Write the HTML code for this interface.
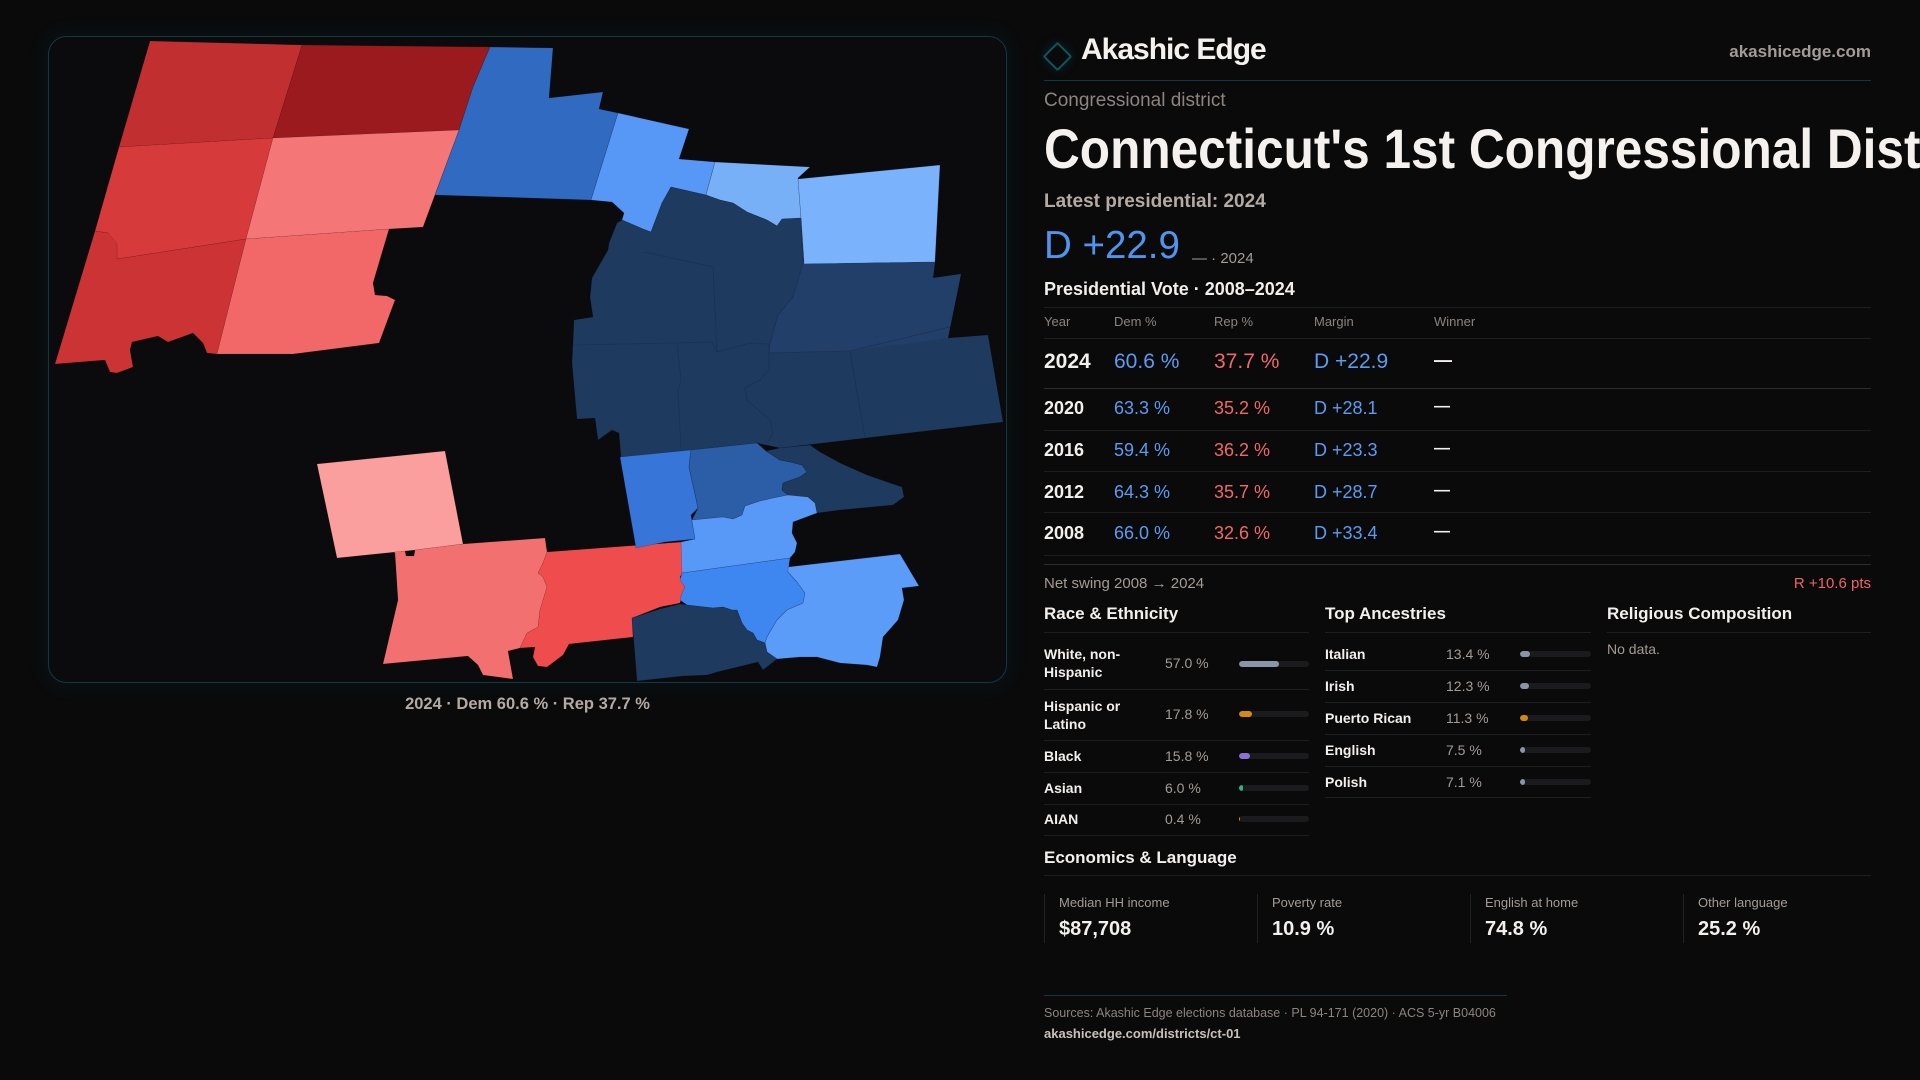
<!DOCTYPE html>
<html><head><meta charset="utf-8">
<style>
html,body{margin:0;padding:0;background:#0a0a0b;}
body{width:1920px;height:1080px;overflow:hidden;position:relative;font-family:"Liberation Sans",Arial,sans-serif;color:#f2efec;}
.a{position:absolute;white-space:nowrap;line-height:1;}
.hl{position:absolute;height:1px;background:#1e1e21;}
.g{color:#a39b96;}
.dg{color:#8c847f;}
.b{color:#5a9cf2;}
.r{color:#f06868;}
.bold{font-weight:700;}
.bar{position:absolute;height:6px;border-radius:3px;background:#1b1b1e;overflow:hidden;}
.bar i{position:absolute;left:0;top:0;bottom:0;border-radius:3px;}
.vb{position:absolute;width:1px;background:#222225;top:894px;height:49px;}
</style></head><body>

<svg width="1920" height="1080" style="position:absolute;left:0;top:0" xmlns="http://www.w3.org/2000/svg">
  <defs>
    <filter id="glow" x="-10%" y="-10%" width="120%" height="120%">
      <feGaussianBlur stdDeviation="8"/>
    </filter>
  </defs>
  <rect x="48.5" y="36.5" width="958" height="646" rx="18" ry="18" fill="none" stroke="#0f4650" stroke-width="6" opacity="0.25" filter="url(#glow)"/>
  <rect x="48.5" y="36.5" width="958" height="646" rx="18" ry="18" fill="#0b0a0c" stroke="#0f3a42" stroke-width="1"/>
  <g stroke="rgba(0,0,0,0.18)" stroke-width="0.5" stroke-linejoin="round">
    <polygon fill="#c22f31" points="150,41 302,45 273,138 119,147"/>
    <polygon fill="#9a1a1e" points="302,45 490,47 473,87 459,130 273,138"/>
    <polygon fill="#d63a3a" points="119,147 273,138 246,239 117,259 117,245 108,233 95,231"/>
    <polygon fill="#f47676" points="273,138 459,130 423,227 389,229 246,239"/>
    <polygon fill="#cc3334" points="95,231 108,233 117,243 117,259 246,239 217,354 207,353 203,343 193,333 168,342 158,336 132,342 130,350 133,367 117,373 110,372 105,360 55,364"/>
    <polygon fill="#f26868" points="246,239 389,229 373,283 375,295 387,296 395,300 379,343 293,354 217,354"/>
    <polygon fill="#fb9e9e" points="317,464 445,451 463,544 415,550 337,558"/>
    <polygon fill="#f37070" points="394,552 405,551 406,556 414,556 415,550 463,544 545,538 547,552 543,563 538,573 543,577 547,587 543,600 540,610 538,627 527,633 520,648 508,651 513,679 483,675 478,665 468,656 383,664 398,600 395,553"/>
    <polygon fill="#ef4d4d" points="547,552 682,542 683,572 680,577 685,587 680,603 660,607 632,618 633,637 569,644 563,655 547,667 538,666 533,657 535,647 520,648 527,633 538,627 540,610 543,600 547,587 543,577 538,573 543,563"/>
  </g>
  <g stroke="rgba(10,20,40,0.3)" stroke-width="0.6" stroke-linejoin="round">
    <polygon fill="#316bc1" points="490,47 553,48 549,98 603,92 599,109 618,113 591,200 500,197 435,195 459,130 473,87"/>
    <polygon fill="#5798f6" points="618,113 689,129 679,159 715,162 706,195 671,187 662,203 651,232 643,229 622,220 624,213 612,202 591,200"/>
    <polygon fill="#78b0f8" points="715,162 810,167 798,178 801,218 782,219 777,226 767,220 747,212 733,203 720,200 706,195"/>
    <polygon fill="#7ab2fb" points="798,179 940,165 935,262 804,264 801,218"/>
    <polygon fill="#1f3a5f" points="671,187 706,195 720,200 733,203 747,212 767,220 777,226 782,219 801,218 804,264 935,262 933,278 961,274 948,338 988,335 1003,422 780,448 757,443 692,450 621,457 619,433 612,430 598,440 595,418 577,419 572,363 573,343 574,320 593,317 590,297 592,278 608,250 609,243 617,223 622,220 643,229 651,232 662,203"/>
    <polygon fill="#223f69" stroke="none" points="804,264 935,262 933,278 961,274 948,338 850,351 769,353 770,343 778,315 793,297 803,263"/>
    <polygon fill="#3775d9" points="620,457 691,450 689,467 698,508 691,515 695,539 665,542 636,548"/>
    <polygon fill="#2c5ea8" points="691,450 757,443 766,451 780,460 790,462 802,465 807,472 800,477 783,483 782,490 788,495 773,498 760,501 745,506 742,515 733,519 723,517 692,520 698,508 689,467"/>
    <polygon fill="#1f3a5f" points="766,451 780,448 810,445 820,452 840,463 867,475 890,483 902,487 904,497 893,505 840,510 817,513 815,503 808,497 788,495 782,490 783,483 800,477 807,472 802,465 790,462 780,460"/>
    <polygon fill="#5898f6" points="692,520 723,517 733,519 742,515 745,506 760,501 773,498 788,495 808,497 815,503 817,513 793,522 792,533 797,543 795,552 790,558 682,573 681,542 695,539 691,515"/>
    <polygon fill="#3e86f0" points="682,573 790,558 788,572 797,582 805,593 803,603 787,610 777,620 767,637 765,643 757,640 753,633 747,630 742,623 737,610 732,610 723,607 713,608 687,605 680,600 682,593 685,587 680,580"/>
    <polygon fill="#5b9cf8" points="788,567 900,554 919,586 902,588 904,600 898,620 883,637 880,657 877,667 867,665 840,663 817,657 800,657 777,659 767,652 765,643 767,637 777,620 787,610 803,603 805,593 797,582 788,572"/>
    <polygon fill="#1f3a5f" points="632,618 660,609 680,604 687,605 713,608 723,607 732,610 737,610 742,623 747,630 753,633 757,640 765,643 767,652 777,659 763,670 758,662 717,672 707,675 683,676 655,679 637,681"/>
  </g>
  <g fill="none" stroke="#1a3253" stroke-width="0.8">
    <polyline points="644,252 713,267 717,352"/>
    <polyline points="573,345 677,343 712,342 717,352 750,343 769,344"/>
    <polyline points="677,345 681,380 678,390 681,449"/>
    <polyline points="769,344 769,370 760,380 745,388 747,400 770,420 773,433 767,443"/>
    <polyline points="801,230 803,263 793,297 778,315 770,343 769,353 850,351 950,327"/>
    <polyline points="850,352 865,437"/>
  </g>
</svg>

<div class="a bold" style="left:0;width:1055px;text-align:center;top:696px;font-size:16.5px;color:#b3aaa4;">2024 · Dem 60.6 % · Rep 37.7 %</div>

<!-- Header -->
<div style="position:absolute;left:1047px;top:46px;width:17px;height:17px;border:2px solid #0f5560;transform:rotate(45deg);border-radius:2px;box-shadow:0 0 10px rgba(15,85,96,0.35);"></div>
<div class="a bold" style="left:1081px;top:35px;font-size:30px;letter-spacing:-1px;color:#f4f1ee;">Akashic Edge</div>
<div class="a bold" style="right:49px;top:43px;font-size:17px;color:#a39b96;">akashicedge.com</div>
<div class="hl" style="left:1044px;width:827px;top:80px;background:#0f3a42;"></div>

<div class="a" style="left:1044px;top:91px;font-size:19px;color:#8c847f;">Congressional district</div>
<div class="a bold" style="left:1044px;top:121px;font-size:56px;color:#f4f1ee;transform:scaleX(0.885);transform-origin:0 0;">Connecticut's 1st Congressional District</div>
<div class="a bold" style="left:1044px;top:192px;font-size:19px;color:#b3aaa4;">Latest presidential: 2024</div>
<div class="a" style="left:1044px;top:227px;font-size:38.5px;color:#4f95ef;">D +22.9</div>
<div class="a" style="left:1192px;top:251px;font-size:15px;color:#a39b96;">— · 2024</div>
<div class="a bold" style="left:1044px;top:280px;font-size:18px;color:#f1eeeb;">Presidential Vote · 2008–2024</div>
<div class="hl" style="left:1044px;width:827px;top:307px;"></div>

<!-- table header -->
<div class="a dg" style="left:1044px;top:315px;font-size:13px;">Year</div>
<div class="a dg" style="left:1114px;top:315px;font-size:13px;">Dem %</div>
<div class="a dg" style="left:1214px;top:315px;font-size:13px;">Rep %</div>
<div class="a dg" style="left:1314px;top:315px;font-size:13px;">Margin</div>
<div class="a dg" style="left:1434px;top:315px;font-size:13px;">Winner</div>
<div class="hl" style="left:1044px;width:827px;top:338px;"></div>

<!-- 2024 -->
<div class="a bold" style="left:1044px;top:351px;font-size:21px;">2024</div>
<div class="a b" style="left:1114px;top:351px;font-size:21px;">60.6 %</div>
<div class="a r" style="left:1214px;top:351px;font-size:21px;">37.7 %</div>
<div class="a b" style="left:1314px;top:351px;font-size:21px;">D +22.9</div>
<div class="a bold" style="left:1434px;top:351px;font-size:18px;">—</div>
<div class="hl" style="left:1044px;width:827px;top:388px;background:#2c2b2e;"></div>

<!-- 2020 -->
<div class="a bold" style="left:1044px;top:399px;font-size:18px;">2020</div>
<div class="a b" style="left:1114px;top:399px;font-size:18px;">63.3 %</div>
<div class="a r" style="left:1214px;top:399px;font-size:18px;">35.2 %</div>
<div class="a b" style="left:1314px;top:399px;font-size:18px;">D +28.1</div>
<div class="a bold" style="left:1434px;top:399px;font-size:16px;">—</div>
<div class="hl" style="left:1044px;width:827px;top:430px;"></div>

<div class="a bold" style="left:1044px;top:441px;font-size:18px;">2016</div>
<div class="a b" style="left:1114px;top:441px;font-size:18px;">59.4 %</div>
<div class="a r" style="left:1214px;top:441px;font-size:18px;">36.2 %</div>
<div class="a b" style="left:1314px;top:441px;font-size:18px;">D +23.3</div>
<div class="a bold" style="left:1434px;top:441px;font-size:16px;">—</div>
<div class="hl" style="left:1044px;width:827px;top:471px;"></div>

<div class="a bold" style="left:1044px;top:483px;font-size:18px;">2012</div>
<div class="a b" style="left:1114px;top:483px;font-size:18px;">64.3 %</div>
<div class="a r" style="left:1214px;top:483px;font-size:18px;">35.7 %</div>
<div class="a b" style="left:1314px;top:483px;font-size:18px;">D +28.7</div>
<div class="a bold" style="left:1434px;top:483px;font-size:16px;">—</div>
<div class="hl" style="left:1044px;width:827px;top:512px;"></div>

<div class="a bold" style="left:1044px;top:524px;font-size:18px;">2008</div>
<div class="a b" style="left:1114px;top:524px;font-size:18px;">66.0 %</div>
<div class="a r" style="left:1214px;top:524px;font-size:18px;">32.6 %</div>
<div class="a b" style="left:1314px;top:524px;font-size:18px;">D +33.4</div>
<div class="a bold" style="left:1434px;top:524px;font-size:16px;">—</div>
<div class="hl" style="left:1044px;width:827px;top:555px;"></div>
<div class="hl" style="left:1044px;width:827px;top:564px;background:#2c2b2e;"></div>

<div class="a g" style="left:1044px;top:576px;font-size:15px;">Net swing 2008 → 2024</div>
<div class="a" style="right:49px;top:576px;font-size:15px;color:#ef6464;">R +10.6 pts</div>

<!-- Section headers -->
<div class="a bold" style="left:1044px;top:605px;font-size:17px;">Race &amp; Ethnicity</div>
<div class="a bold" style="left:1325px;top:605px;font-size:17px;">Top Ancestries</div>
<div class="a bold" style="left:1607px;top:605px;font-size:17px;">Religious Composition</div>
<div class="hl" style="left:1044px;width:265px;top:632px;"></div>
<div class="hl" style="left:1325px;width:266px;top:632px;"></div>
<div class="hl" style="left:1607px;width:264px;top:632px;"></div>

<!-- Race rows -->
<div class="a bold" style="left:1044px;top:645px;font-size:14px;line-height:18px;white-space:normal;width:100px;">White, non-<br>Hispanic</div>
<div class="a g" style="left:1165px;top:656px;font-size:14px;">57.0 %</div>
<div class="bar" style="left:1239px;top:661px;width:70px;"><i style="width:40px;background:#8b95a8;"></i></div>
<div class="hl" style="left:1044px;width:265px;top:689px;"></div>

<div class="a bold" style="left:1044px;top:697px;font-size:14px;line-height:18px;white-space:normal;width:100px;">Hispanic or<br>Latino</div>
<div class="a g" style="left:1165px;top:707px;font-size:14px;">17.8 %</div>
<div class="bar" style="left:1239px;top:711px;width:70px;"><i style="width:12.5px;background:#d4880f;"></i></div>
<div class="hl" style="left:1044px;width:265px;top:740px;"></div>

<div class="a bold" style="left:1044px;top:749px;font-size:14px;">Black</div>
<div class="a g" style="left:1165px;top:749px;font-size:14px;">15.8 %</div>
<div class="bar" style="left:1239px;top:753px;width:70px;"><i style="width:11px;background:#8c70d9;"></i></div>
<div class="hl" style="left:1044px;width:265px;top:772px;"></div>

<div class="a bold" style="left:1044px;top:781px;font-size:14px;">Asian</div>
<div class="a g" style="left:1165px;top:781px;font-size:14px;">6.0 %</div>
<div class="bar" style="left:1239px;top:785px;width:70px;"><i style="width:4.2px;background:#2bb585;"></i></div>
<div class="hl" style="left:1044px;width:265px;top:804px;"></div>

<div class="a bold" style="left:1044px;top:812px;font-size:14px;">AIAN</div>
<div class="a g" style="left:1165px;top:812px;font-size:14px;">0.4 %</div>
<div class="bar" style="left:1239px;top:816px;width:70px;"><i style="width:1.2px;background:#d4880f;border-radius:0;"></i></div>
<div class="hl" style="left:1044px;width:265px;top:835px;"></div>

<!-- Ancestries -->
<div class="a bold" style="left:1325px;top:647px;font-size:14px;">Italian</div>
<div class="a g" style="left:1446px;top:647px;font-size:14px;">13.4 %</div>
<div class="bar" style="left:1520px;top:651px;width:71px;"><i style="width:9.5px;background:#8b95a8;"></i></div>
<div class="hl" style="left:1325px;width:266px;top:670px;"></div>

<div class="a bold" style="left:1325px;top:679px;font-size:14px;">Irish</div>
<div class="a g" style="left:1446px;top:679px;font-size:14px;">12.3 %</div>
<div class="bar" style="left:1520px;top:683px;width:71px;"><i style="width:8.7px;background:#8b95a8;"></i></div>
<div class="hl" style="left:1325px;width:266px;top:702px;"></div>

<div class="a bold" style="left:1325px;top:711px;font-size:14px;">Puerto Rican</div>
<div class="a g" style="left:1446px;top:711px;font-size:14px;">11.3 %</div>
<div class="bar" style="left:1520px;top:715px;width:71px;"><i style="width:8px;background:#d4880f;"></i></div>
<div class="hl" style="left:1325px;width:266px;top:734px;"></div>

<div class="a bold" style="left:1325px;top:743px;font-size:14px;">English</div>
<div class="a g" style="left:1446px;top:743px;font-size:14px;">7.5 %</div>
<div class="bar" style="left:1520px;top:747px;width:71px;"><i style="width:5.3px;background:#8b95a8;"></i></div>
<div class="hl" style="left:1325px;width:266px;top:766px;"></div>

<div class="a bold" style="left:1325px;top:775px;font-size:14px;">Polish</div>
<div class="a g" style="left:1446px;top:775px;font-size:14px;">7.1 %</div>
<div class="bar" style="left:1520px;top:779px;width:71px;"><i style="width:5px;background:#8b95a8;"></i></div>
<div class="hl" style="left:1325px;width:266px;top:797px;"></div>

<div class="a g" style="left:1607px;top:642px;font-size:14px;">No data.</div>

<!-- Economics -->
<div class="a bold" style="left:1044px;top:849px;font-size:17px;">Economics &amp; Language</div>
<div class="hl" style="left:1044px;width:827px;top:875px;"></div>

<div class="vb" style="left:1044px;"></div>
<div class="vb" style="left:1257px;"></div>
<div class="vb" style="left:1470px;"></div>
<div class="vb" style="left:1683px;"></div>
<div class="a g" style="left:1059px;top:896px;font-size:13px;">Median HH income</div>
<div class="a g" style="left:1272px;top:896px;font-size:13px;">Poverty rate</div>
<div class="a g" style="left:1485px;top:896px;font-size:13px;">English at home</div>
<div class="a g" style="left:1698px;top:896px;font-size:13px;">Other language</div>
<div class="a bold" style="left:1059px;top:919px;font-size:20px;">$87,708</div>
<div class="a bold" style="left:1272px;top:919px;font-size:20px;">10.9 %</div>
<div class="a bold" style="left:1485px;top:919px;font-size:20px;">74.8 %</div>
<div class="a bold" style="left:1698px;top:919px;font-size:20px;">25.2 %</div>

<!-- Footer -->
<div class="hl" style="left:1044px;width:463px;top:995px;background:#12363f;"></div>
<div class="a dg" style="left:1044px;top:1007px;font-size:12.5px;">Sources: Akashic Edge elections database · PL 94-171 (2020) · ACS 5-yr B04006</div>
<div class="a bold" style="left:1044px;top:1027px;font-size:13px;color:#c8c1bb;">akashicedge.com/districts/ct-01</div>

</body></html>
